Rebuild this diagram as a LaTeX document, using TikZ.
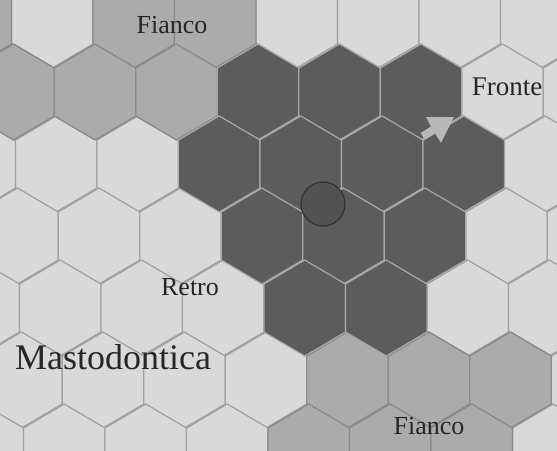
\documentclass[tikz,border=0pt]{standalone}
\usepackage{fontspec}
\setmainfont{Liberation Serif}
\definecolor{lighthex}{HTML}{D9D9D9}
\definecolor{medhex}{HTML}{ABABAB}
\definecolor{darkhex}{HTML}{5C5C5C}
\definecolor{gridline}{HTML}{A2A2A2}
\definecolor{darkline}{HTML}{A8A8A8}
\definecolor{arrowgray}{HTML}{B8B8B8}
\definecolor{inkc}{HTML}{262626}
\newcommand\hexcellx[3]{%
  \pgfmathsetmacro\hcy{92+72*(#1-1)}%
  \pgfmathsetmacro\hcx{258+2*(#1-1)+81.5*(#2)+40.75*(1-mod(#1,2))}%
  \path[#3] (\hcx,\hcy-48) -- (\hcx+40.75,\hcy-24) -- (\hcx+40.75,\hcy+24) -- (\hcx,\hcy+48) -- (\hcx-40.75,\hcy+24) -- (\hcx-40.75,\hcy-24) -- cycle;%
}
\begin{document}
\begin{tikzpicture}[x=1pt,y=-1pt,
  lightcell/.style={fill=lighthex,draw=gridline,line width=1.3pt,line join=round},
  medcell/.style={fill=medhex,draw=gridline!85!black,line width=1.3pt,line join=round},
  darkcell/.style={fill=darkhex,draw=darkline,line width=1.2pt,line join=round},
  lbl/.style={text=inkc,inner sep=0pt,font=\fontsize{26}{26}\selectfont}]
\useasboundingbox (0,0) rectangle (557,450);
\clip (0,0) rectangle (557,450);
\fill[lighthex] (0,0) rectangle (557,450);
% light background cells
\foreach \r in {0,...,6}{
  \foreach \k in {-4,...,4}{
    \hexcellx{\r}{\k}{lightcell}
  }
}
% medium (flank) cells
\foreach \r/\k in {0/-4,0/-2,0/-1,1/-3,1/-2,1/-1,5/1,5/2,5/3,6/0,6/1,6/2}{
  \hexcellx{\r}{\k}{medcell}
}
% dark (occupied) cells
\foreach \r/\k in {1/0,1/1,1/2,2/-1,2/0,2/1,2/2,3/0,3/1,3/2,4/0,4/1}{
  \hexcellx{\r}{\k}{darkcell}
}
% marker
\filldraw[fill=black!68,draw=black!80,line width=1.2pt] (323,204) circle[radius=22];
% facing arrow
\fill[arrowgray] (454,117) -- (426,117) -- (430.9,126.6) -- (420.7,132.9) -- (424.9,139.7) -- (435.1,133.4) -- (441,142.8) -- cycle;
% labels
\node[lbl] (fianco1) at (172,25) {Fianco};
\node[lbl,font=\fontsize{27}{27}\selectfont] (fronte) at (507,87) {Fronte};
\node[lbl] (retro) at (190,287) {Retro};
\node[lbl,font=\fontsize{36}{36}\selectfont] (mastodontica) at (113,357) {Mastodontica};
\node[lbl] (fianco2) at (429,426) {Fianco};
\end{tikzpicture}
\end{document}
